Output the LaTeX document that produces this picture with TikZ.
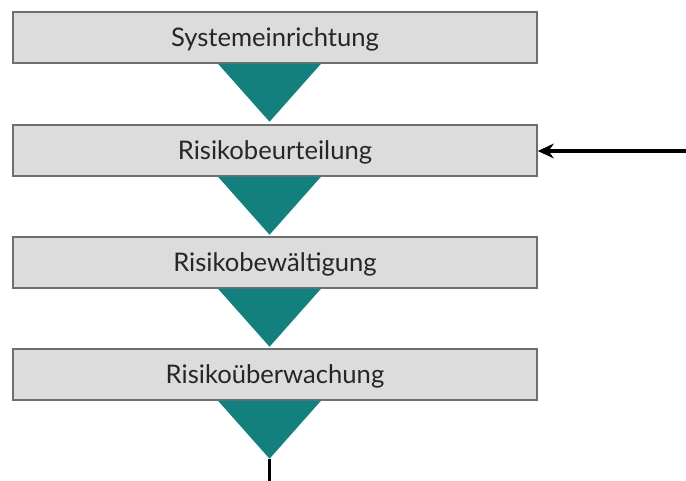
\documentclass[tikz,border=0pt]{standalone}
\usepackage{fontspec}
\setmainfont{Lato}
\usetikzlibrary{arrows.meta}
\definecolor{boxfill}{RGB}{220,220,220}
\definecolor{boxline}{RGB}{110,110,110}
\definecolor{tealtri}{RGB}{20,128,126}
\tikzset{
  stepbox/.style={draw=boxline, line width=1.1pt, fill=boxfill,
    minimum width=393pt, minimum height=38.25pt, inner sep=0pt,
    text height=14.2pt, text depth=0pt,
    font=\fontsize{19.2}{22}\selectfont, text=black!85},
  tri/.style={fill=tealtri},
}
\begin{document}
\begin{tikzpicture}[x=0.75pt,y=-0.75pt]
\useasboundingbox (0,0) rectangle (686,481);
\node[stepbox] (b1) at (275,37.5) {Systemeinrichtung};
\node[stepbox] (b2) at (275,150.5) {Risikobeurteilung};
\node[stepbox] (b3) at (275,262.5) {Risikobewältigung};
\node[stepbox] (b4) at (275,374.5) {Risikoüberwachung};
% triangles
\foreach \b/\n in {b1/t1,b2/t2,b3/t3,b4/t4}{
  \coordinate (\n l) at ([xshift=-42.75pt]\b.south);
  \coordinate (\n r) at ([xshift=34.5pt]\b.south);
  \coordinate (\n) at ([xshift=-4.1pt,yshift=-43.5pt]\b.south);
  \fill[tri] (\n l) -- (\n r) -- (\n) -- cycle;
}
\coordinate (inarrow) at (686,151);
\draw[line width=2.6pt, -{Stealth[length=12pt,width=11pt]}] (inarrow) -- (b2.east |- inarrow);
\coordinate (outend) at (269,481);
\draw[line width=1.6pt] (t4) -- (t4 |- outend);
\end{tikzpicture}
\end{document}
